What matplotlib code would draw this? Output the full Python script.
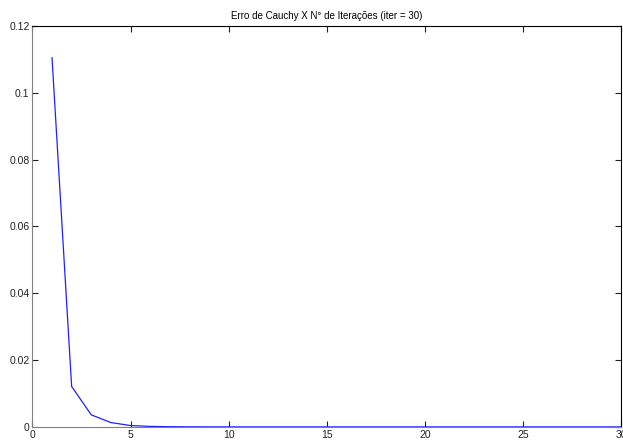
import numpy as np
import matplotlib
matplotlib.use("Agg")
import matplotlib.pyplot as plt

plt.rcParams['font.family'] = ['Liberation Sans', 'DejaVu Sans']

# erro de Cauchy por iteracao
iteracoes = list(range(1, 31))
erro = [0.1105, 0.0121, 0.0036, 0.0013, 0.0004, 0.00015, 0.00006, 0.00002,
        0.00001, 0.0, 0.0, 0.0, 0.0, 0.0, 0.0, 0.0, 0.0, 0.0, 0.0, 0.0,
        0.0, 0.0, 0.0, 0.0, 0.0, 0.0, 0.0, 0.0, 0.0, 0.0]
xticks = [0, 5, 10, 15, 20, 25, 30]
yticks = [0, 0.02, 0.04, 0.06, 0.08, 0.1, 0.12]

fig = plt.figure(figsize=(6.23, 4.41), dpi=100)
ax = fig.add_axes([0.052, 0.032, 0.945, 0.909])

ax.plot(iteracoes, erro, color='#2020ff', linewidth=0.9)
ax.set_xlim(0, 30)
ax.set_ylim(0, 0.12)
ax.set_xticks(xticks)
ax.set_yticks(yticks)
ax.set_yticklabels(['%g' % v for v in yticks])
ax.tick_params(direction='in', length=4, width=0.8, labelsize=7.5,
               top=True, right=True, pad=2, colors='#222222')
for s in ['left', 'bottom']:
    ax.spines[s].set_color('#808080')
for s in ['top', 'right']:
    ax.spines[s].set_color('black')
for s in ax.spines.values():
    s.set_linewidth(0.8)

ax.set_title("Erro de Cauchy X N° de Iterações (iter = 30)", fontsize=7, pad=5)

fig.savefig("out.png", dpi=100)
